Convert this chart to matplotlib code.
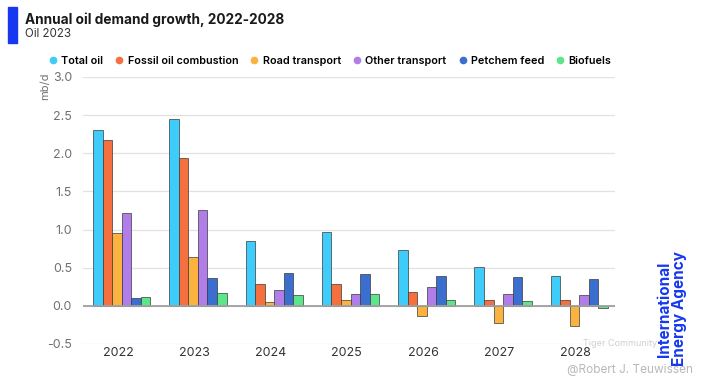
import matplotlib

matplotlib.use("Agg")
import matplotlib.pyplot as plt
from matplotlib.lines import Line2D
import numpy as np

plt.rcParams["font.family"] = ["Inter", "DejaVu Sans"]

YEARS = ["2022", "2023", "2024", "2025", "2026", "2027", "2028"]
SERIES = ["Total oil", "Fossil oil combustion", "Road transport", "Other transport", "Petchem feed", "Biofuels"]
TOTAL_OIL = [2.30, 2.45, 0.85, 0.97, 0.73, 0.51, 0.39]
FOSSIL_COMBUSTION = [2.17, 1.94, 0.28, 0.28, 0.18, 0.08, 0.07]
ROAD_TRANSPORT = [0.95, 0.64, 0.05, 0.07, -0.13, -0.22, -0.27]
OTHER_TRANSPORT = [1.22, 1.26, 0.21, 0.16, 0.24, 0.16, 0.145]
PETCHEM_FEED = [0.10, 0.37, 0.43, 0.42, 0.385, 0.38, 0.35]
BIOFUELS = [0.12, 0.17, 0.14, 0.16, 0.08, 0.06, -0.03]

COLORS = ["#3ecdfa", "#f66f3f", "#fbb23f", "#b17de9", "#3b6fcf", "#5de58a"]
BLUE = "#1638f0"

values = [TOTAL_OIL, FOSSIL_COMBUSTION, ROAD_TRANSPORT, OTHER_TRANSPORT, PETCHEM_FEED, BIOFUELS]
x = np.arange(len(YEARS))
width = 0.125

fig = plt.figure(figsize=(7.17, 3.83), dpi=100)
ax = fig.add_axes([0.116, 0.102, 0.742, 0.697])

for k, (vals, color) in enumerate(zip(values, COLORS)):
    ax.bar(x + (k - 2.5) * width, vals, width, color=color, edgecolor="#3a3a3a",
           linewidth=0.5, zorder=3)

ax.set_ylim(-0.5, 3.0)
ax.set_xlim(-0.505, 6.47)
ax.set_yticks(np.arange(-0.5, 3.01, 0.5))
ax.set_yticklabels([f"{v:.1f}" for v in np.arange(-0.5, 3.01, 0.5)])
ax.set_xticks(x - 0.05)
ax.set_xticklabels(YEARS)
ax.grid(axis="y", color="#e2e2e2", linewidth=0.9, zorder=0)
ax.axhline(0, color="#a0a0a0", linewidth=1.3, zorder=4)
for s in ax.spines.values():
    s.set_visible(False)
ax.tick_params(axis="y", length=0, pad=8, labelsize=9, labelcolor="#707070")
ax.tick_params(axis="x", length=0, pad=2, labelsize=9, labelcolor="#333333")

# title block
fig.patches.append(plt.Rectangle((8 / 717, 1 - 43 / 383), 9 / 717, 36 / 383,
                                 transform=fig.transFigure, color=BLUE))
fig.text(25 / 717, 1 - 20 / 383, "Annual oil demand growth, 2022-2028", fontsize=9.8,
         fontweight="bold", color="#1a1a1a", va="center")
fig.text(25 / 717, 1 - 34 / 383, "Oil 2023", fontsize=8.3, color="#333333", va="center")

handles = [Line2D([], [], marker="o", linestyle="", markersize=4.5, color=c) for c in COLORS]
fig.legend(handles, SERIES, loc="center", bbox_to_anchor=(330 / 717, 1 - 61 / 383), ncol=6,
           frameon=False, handlelength=0.8, handletextpad=0.35, columnspacing=1.1,
           prop={"weight": "semibold", "size": 7.8})

fig.text(45 / 717, 1 - 86 / 383, "mb/d", rotation=90, fontsize=8, color="#707070",
         ha="center", va="center")

fig.text(672 / 717, 1 - 309 / 383, "International\nEnergy Agency", rotation=90,
         fontsize=11, fontweight="bold", color=BLUE, ha="center", va="center",
         linespacing=0.95)

fig.text(620 / 717, 1 - 344 / 383, "Tiger Community", fontsize=6.5, color="#d0d0d0",
         ha="center", va="center")
fig.text(630 / 717, 1 - 370 / 383, "@Robert J. Teuwissen", fontsize=8.5, color="#b8b8b8",
         ha="center", va="center")

fig.savefig("out.png", dpi=100)
